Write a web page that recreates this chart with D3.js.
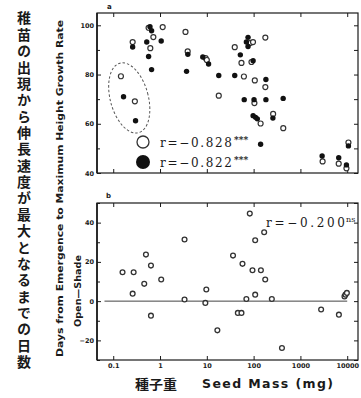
<!DOCTYPE html>
<html>
<head>
<meta charset="utf-8">
<script src="https://cdn.jsdelivr.net/npm/d3@7"></script>
<style>
  body { margin: 0; background: #fff; }
  svg { display: block; }
</style>
</head>
<body>
<svg id="chart" width="361" height="398"></svg>
<script>
// ---- Panel a: days to maximum height growth rate vs. seed mass ----
// open-site seedlings (open circles)
const openMass = [0.146, 0.29, 0.26, 0.57, 1.14, 0.72, 0.62, 3.5, 3.9, 9.4, 10.0, 18, 39.5, 55, 62,
                  86, 97, 178, 90, 106, 178, 104, 261, 141, 430, 2980, 6580, 9620, 10620];
const openDays = [79.3, 69.1, 93.2, 99.0, 99.3, 95.2, 90.7, 97.3, 89.4, 86.7, 85.9, 71.4, 91.1, 84.7, 79.2,
                  92.9, 93.2, 95.0, 85.1, 77.6, 74.9, 68.4, 64.0, 60.1, 58.2, 44.7, 43.8, 41.9, 52.4];
// shaded seedlings (filled circles)
const shadeMass = [0.166, 0.30, 0.26, 0.61, 0.66, 1.06, 0.52, 0.57, 0.66, 3.93, 3.69, 8.2, 10.9, 18, 39.5,
                   52, 76, 70, 76, 97.5, 183, 63, 102, 183, 428, 258, 97.5, 110, 120, 141,
                   2910, 6580, 9620, 10620];
const shadeDays = [71.0, 61.2, 91.2, 99.4, 97.8, 93.6, 93.2, 87.3, 82.0, 88.2, 81.3, 87.1, 84.3, 79.6, 79.6,
                   88.0, 95.1, 93.2, 91.4, 85.6, 78.0, 69.8, 69.8, 69.8, 70.3, 62.3, 63.3, 62.6, 62.0, 51.7,
                   46.9, 46.2, 43.3, 51.0];

// ---- Panel b: open minus shade difference ----
const diffMass = [0.158, 0.273, 0.50, 0.64, 0.46, 1.06, 0.26, 0.64, 3.34, 3.34, 9.75, 9.3, 16.8,
                  36.3, 57.8, 82.8, 94.6, 143, 177, 168, 108, 108, 70, 245, 46, 55, 403,
                  2770, 6640, 8750, 9180, 9840];
const diffDays = [14.7, 14.7, 23.7, 18.1, 8.8, 11.0, 3.8, -7.4, 31.4, 0.8, 5.9, -0.9, -14.9,
                  23.2, 19.0, 44.6, 15.7, 15.7, 11.0, 35.1, 31.0, 3.3, 1.1, 1.1, -6.0, -6.0, -23.9,
                  -4.3, -6.9, 2.4, 3.3, 4.2];

// ---- ticks and labels ----
const massTicks = [0.1, 1, 10, 100, 1000, 10000];
const massTickLabels = ["0.1", "1", "10", "100", "1000", "10000"];
const daysTicks = [40, 60, 80, 100];
const daysMinor = [50, 70, 90];
const diffTicks = [-20, 0, 20, 40];
const diffMinor = [-30, -10, 10, 30, 50];

const rOpen = "r=\u22120.828", rShade = "r=\u22120.822", rDiff = "r=\u22120.200";
const sigA = "***", sigB = "ns";

const titleJa = "稚苗の出現から伸長速度が最大となるまでの日数";
const titleEn = "Days from Emergence to Maximum Height Growth Rate";
const subEn = "Open\u2014Shade";

const svg = d3.select("#chart");
const ink = "#1a1a1a";
const serif = "'DejaVu Serif', 'Liberation Serif', serif";

const xL = 97, xR = 358;
const x = d3.scaleLog().domain([0.045, 17000]).range([xL, xR]);
const yA = d3.scaleLinear().domain([40, 105]).range([173, 13]);
const yB = d3.scaleLinear().domain([-30, 50]).range([360, 203]);

function styleAxis(g) {
  g.select(".domain").remove();
  g.selectAll(".tick line").attr("stroke", ink).attr("stroke-width", 1);
  g.selectAll(".tick text")
    .attr("fill", ink)
    .style("font-family", "'DejaVu Sans', sans-serif")
    .style("font-weight", "bold")
    .style("font-size", "6.5px");
}

function panel(y, majors, minors, showXLabels) {
  const [bot, top] = y.range();
  const inside = v => v >= y.domain()[0] && v <= y.domain()[1];
  const g = svg.append("g");
  // left axis: labelled majors + minor ticks, all inward
  g.append("g").attr("transform", `translate(${xL},0)`)
    .call(d3.axisLeft(y).tickValues(majors).tickSize(-4).tickPadding(3).tickFormat(d3.format("d")))
    .call(styleAxis);
  g.append("g").attr("transform", `translate(${xL},0)`)
    .call(d3.axisLeft(y).tickValues(minors.filter(inside)).tickSize(-3).tickFormat(""))
    .call(styleAxis);
  // right axis ticks
  g.append("g").attr("transform", `translate(${xR},0)`)
    .call(d3.axisRight(y).tickValues(majors.concat(minors).filter(inside)).tickSize(-4).tickFormat(""))
    .call(styleAxis);
  // top and bottom decade ticks
  g.append("g").attr("transform", `translate(0,${top})`)
    .call(d3.axisTop(x).tickValues(massTicks).tickSize(-4).tickFormat(""))
    .call(styleAxis);
  g.append("g").attr("transform", `translate(0,${bot})`)
    .call(d3.axisBottom(x).tickValues(massTicks).tickSize(-4).tickPadding(3)
      .tickFormat(showXLabels ? (d, i) => massTickLabels[i] : ""))
    .call(styleAxis);
  // frame
  g.append("rect")
    .attr("x", xL).attr("y", top).attr("width", xR - xL).attr("height", bot - top)
    .attr("fill", "none").attr("stroke", ink).attr("stroke-width", 1.2);
  g.append("line")
    .attr("x1", xL).attr("x2", xL).attr("y1", top).attr("y2", bot)
    .attr("stroke", ink).attr("stroke-width", 1.6);
  return g;
}

// ---- panel a ----
const gA = panel(yA, daysTicks, daysMinor, false);

// grouping ellipse around the small-seeded outliers
const ex = x(0.22), ey = yA(70.5);
gA.append("ellipse")
  .attr("cx", 0).attr("cy", 0).attr("rx", 19).attr("ry", 36)
  .attr("transform", `translate(${ex},${ey}) rotate(-15)`)
  .attr("fill", "none").attr("stroke", "#555").attr("stroke-width", 1)
  .attr("stroke-dasharray", "2.5,2");

gA.append("g").selectAll("circle").data(d3.range(openMass.length)).join("circle")
  .attr("cx", i => x(openMass[i])).attr("cy", i => yA(openDays[i])).attr("r", 2.5)
  .attr("fill", "#fff").attr("stroke", "#333").attr("stroke-width", 1.2);
gA.append("g").selectAll("circle").data(d3.range(shadeMass.length)).join("circle")
  .attr("cx", i => x(shadeMass[i])).attr("cy", i => yA(shadeDays[i])).attr("r", 2.7)
  .attr("fill", "#111");

// legend
const lg = gA.append("g").style("font-family", serif).attr("fill", ink);
lg.append("circle").attr("cx", 143).attr("cy", 142).attr("r", 6)
  .attr("fill", "#fff").attr("stroke", "#333").attr("stroke-width", 1.3);
lg.append("circle").attr("cx", 143).attr("cy", 162).attr("r", 7).attr("fill", "#111");
[[rOpen, 146.5], [rShade, 166.5]].forEach(([t, yy]) => {
  lg.append("text").attr("x", 160).attr("y", yy).style("font-size", "12px")
    .attr("textLength", 72).attr("lengthAdjust", "spacing").text(t);
  lg.append("text").attr("x", 234).attr("y", yy - 4).style("font-size", "9px")
    .style("font-weight", "bold").text(sigA);
});

// panel letter
svg.append("text").attr("x", 107).attr("y", 9).text("a")
  .style("font-family", "'DejaVu Sans', sans-serif").style("font-weight", "bold")
  .style("font-size", "7px").attr("fill", ink);

// ---- panel b ----
const gB = panel(yB, diffTicks, diffMinor, true);
gB.append("line")
  .attr("x1", x(0.065)).attr("x2", x(10000)).attr("y1", yB(0)).attr("y2", yB(0))
  .attr("stroke", "#444").attr("stroke-width", 1);
gB.append("g").selectAll("circle").data(d3.range(diffMass.length)).join("circle")
  .attr("cx", i => x(diffMass[i])).attr("cy", i => yB(diffDays[i])).attr("r", 2.4)
  .attr("fill", "#fff").attr("stroke", "#333").attr("stroke-width", 1.3);

gB.append("text").attr("x", 266).attr("y", 226.5)
  .style("font-family", serif).style("font-size", "12px").attr("fill", ink)
  .attr("textLength", 79).attr("lengthAdjust", "spacing").text(rDiff);
gB.append("text").attr("x", 346).attr("y", 222)
  .style("font-family", serif).style("font-size", "8px").attr("fill", ink).text(sigB);

svg.append("text").attr("x", 106).attr("y", 198).text("b")
  .style("font-family", "'DejaVu Sans', sans-serif").style("font-weight", "bold")
  .style("font-size", "7px").attr("fill", ink);

// ---- axis titles ----
// vertical Japanese title: each glyph set in vertical writing mode on its own row
const chars = Array.from(titleJa);
const step = 360 / chars.length;
const fsJa = 14;
svg.append("g").attr("fill", ink)
  .style("font-family", "'Noto Sans CJK JP', sans-serif").style("font-weight", "bold")
  .style("font-size", fsJa + "px")
  .selectAll("text").data(chars).join("text")
  .style("writing-mode", "vertical-rl")
  .attr("x", 24).attr("y", (d, i) => 10 + step * i + (step - fsJa) / 2)
  .text(d => d);

// rotated English titles
svg.append("text").attr("transform", "translate(63,188.5) rotate(-90)")
  .attr("text-anchor", "middle").text(titleEn)
  .attr("textLength", 337).attr("lengthAdjust", "spacingAndGlyphs")
  .style("font-family", "'DejaVu Sans', sans-serif").style("font-weight", "bold")
  .style("font-size", "8.5px").attr("fill", ink);
svg.append("text").attr("transform", "translate(81,291) rotate(-90)")
  .attr("text-anchor", "middle").text(subEn)
  .attr("textLength", 72).attr("lengthAdjust", "spacingAndGlyphs")
  .style("font-family", "'DejaVu Sans', sans-serif").style("font-weight", "bold")
  .style("font-size", "8.5px").attr("fill", ink);

// x-axis title
const xt = svg.append("g").attr("fill", ink);
xt.append("text").attr("x", 135).attr("y", 389).text("種子重")
  .attr("textLength", 42).attr("lengthAdjust", "spacingAndGlyphs")
  .style("font-family", "'Noto Sans CJK JP', sans-serif").style("font-weight", "bold").style("font-size", "13px");
xt.append("text").attr("x", 202).attr("y", 388).text("Seed Mass (mg)")
  .attr("textLength", 131).attr("lengthAdjust", "spacing")
  .style("font-family", "'DejaVu Sans', sans-serif").style("font-weight", "bold").style("font-size", "12.5px");
</script>
</body>
</html>
